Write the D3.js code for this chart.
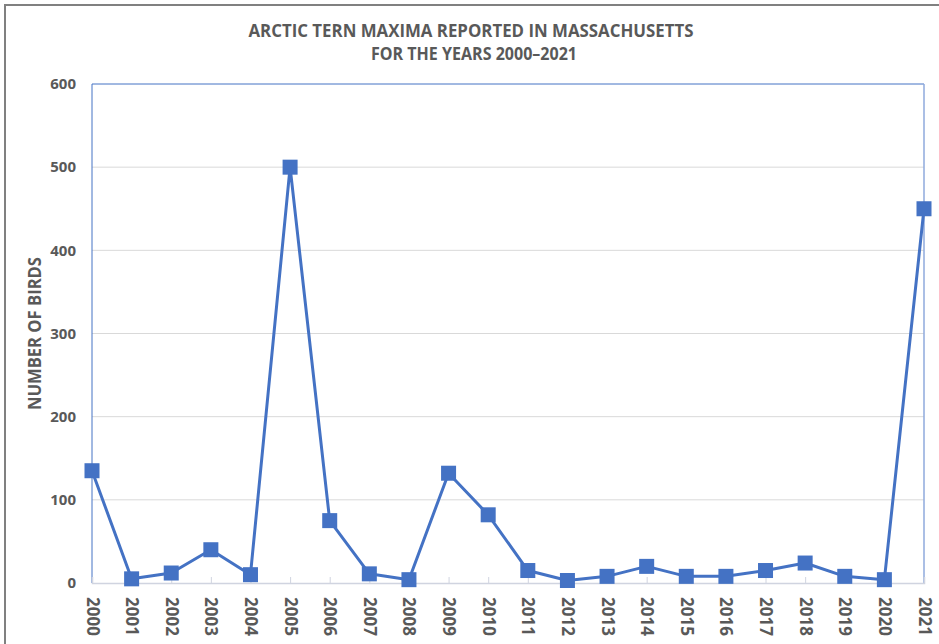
<!DOCTYPE html>
<html>
<head>
<meta charset="utf-8">
<script src="https://cdn.jsdelivr.net/npm/d3@7"></script>
<style>
  body { margin: 0; background: #fff; }
  svg { display: block; font-family: "Open Sans", sans-serif; }
</style>
</head>
<body>
<svg id="chart" width="939" height="644"></svg>
<script>
const years = ["2000", "2001", "2002", "2003", "2004", "2005", "2006", "2007", "2008", "2009", "2010",
               "2011", "2012", "2013", "2014", "2015", "2016", "2017", "2018", "2019", "2020", "2021"];
const birds = [135, 5, 12, 40, 10, 500, 75, 11, 4, 132, 82,
               15, 3, 8, 20, 8, 8, 15, 24, 8, 4, 450];
const yTicks = [0, 100, 200, 300, 400, 500, 600];
const titleLines = ["ARCTIC TERN MAXIMA REPORTED IN MASSACHUSETTS", "FOR THE YEARS 2000\u20132021"];
const yTitle = "NUMBER OF BIRDS";

const svg = d3.select("#chart");
const plotLeft = 92, plotRight = 924, plotTop = 84, plotBottom = 583;
const blue = "#4472c4", grey = "#595959";

// outer frame
svg.append("path")
    .attr("d", "M5,650 L5,5 L945,5")
    .attr("fill", "none")
    .attr("stroke", "#808080")
    .attr("stroke-width", 2);

const x = d3.scalePoint().domain(years).range([plotLeft, plotRight]);
const y = d3.scaleLinear().domain([0, 600]).range([plotBottom, plotTop]);

// gridlines
svg.append("g")
    .selectAll("line")
    .data(yTicks.filter(d => d > 0 && d < 600))
    .enter().append("line")
    .attr("x1", plotLeft).attr("x2", plotRight)
    .attr("y1", d => y(d)).attr("y2", d => y(d))
    .attr("stroke", "#d9d9d9")
    .attr("stroke-width", 1);

// plot border: top and left blue, right light blue
svg.append("line").attr("x1", plotLeft).attr("x2", plotRight).attr("y1", plotTop).attr("y2", plotTop)
    .attr("stroke", blue).attr("stroke-width", 1);
svg.append("line").attr("x1", plotLeft).attr("x2", plotLeft).attr("y1", plotTop).attr("y2", plotBottom)
    .attr("stroke", blue).attr("stroke-width", 1);
svg.append("line").attr("x1", plotRight).attr("x2", plotRight).attr("y1", plotTop).attr("y2", plotBottom)
    .attr("stroke", "#8faadc").attr("stroke-width", 1.5);

// y axis labels
const yAxis = svg.append("g")
    .attr("transform", `translate(${plotLeft},0)`)
    .call(d3.axisLeft(y).tickValues(yTicks).tickSize(0).tickPadding(16));
yAxis.select(".domain").remove();
yAxis.selectAll("text")
    .attr("fill", grey)
    .attr("font-size", 15)
    .attr("font-weight", "bold")
    .attr("font-family", "Open Sans, sans-serif");

// x axis: light line, inward ticks, rotated labels
const xAxis = svg.append("g")
    .attr("transform", `translate(0,${plotBottom})`)
    .call(d3.axisBottom(x).tickSize(-6).tickPadding(0));
xAxis.select(".domain").attr("stroke", "#d0d4e0").attr("stroke-width", 1.5);
xAxis.selectAll(".tick line").attr("stroke", "#d0d4e0");
xAxis.selectAll("text")
    .attr("fill", grey)
    .attr("font-size", 17)
    .attr("font-weight", "bold")
    .attr("font-family", "Open Sans, sans-serif")
    .attr("text-anchor", "start")
    .attr("dy", "0.35em")
    .attr("transform", "translate(0,14) rotate(90)")
    .attr("y", 0)
    .attr("x", 0);

// line
const line = d3.line()
    .x((d, i) => x(years[i]))
    .y(d => y(d));
svg.append("path")
    .attr("d", line(birds))
    .attr("fill", "none")
    .attr("stroke", blue)
    .attr("stroke-width", 3)
    .attr("stroke-linejoin", "round");

// square markers
svg.append("g")
    .selectAll("rect")
    .data(birds)
    .enter().append("rect")
    .attr("x", (d, i) => x(years[i]) - 7.5)
    .attr("y", d => y(d) - 7.5)
    .attr("width", 15)
    .attr("height", 15)
    .attr("fill", blue);

// title
svg.append("g")
    .selectAll("text")
    .data(titleLines)
    .enter().append("text")
    .attr("x", (d, i) => i === 0 ? 471 : 474)
    .attr("y", (d, i) => 37 + i * 23)
    .attr("text-anchor", "middle")
    .attr("fill", grey)
    .attr("font-size", 17)
    .attr("font-weight", "bold")
    .attr("textLength", (d, i) => i === 0 ? 445 : 206)
    .attr("lengthAdjust", "spacingAndGlyphs")
    .text(d => d);

// y axis title
svg.append("text")
    .attr("transform", `translate(41,${(plotTop + plotBottom) / 2}) rotate(-90)`)
    .attr("text-anchor", "middle")
    .attr("fill", grey)
    .attr("font-size", 17)
    .attr("font-weight", "bold")
    .attr("textLength", 153)
    .attr("lengthAdjust", "spacingAndGlyphs")
    .text(yTitle);
</script>
</body>
</html>
